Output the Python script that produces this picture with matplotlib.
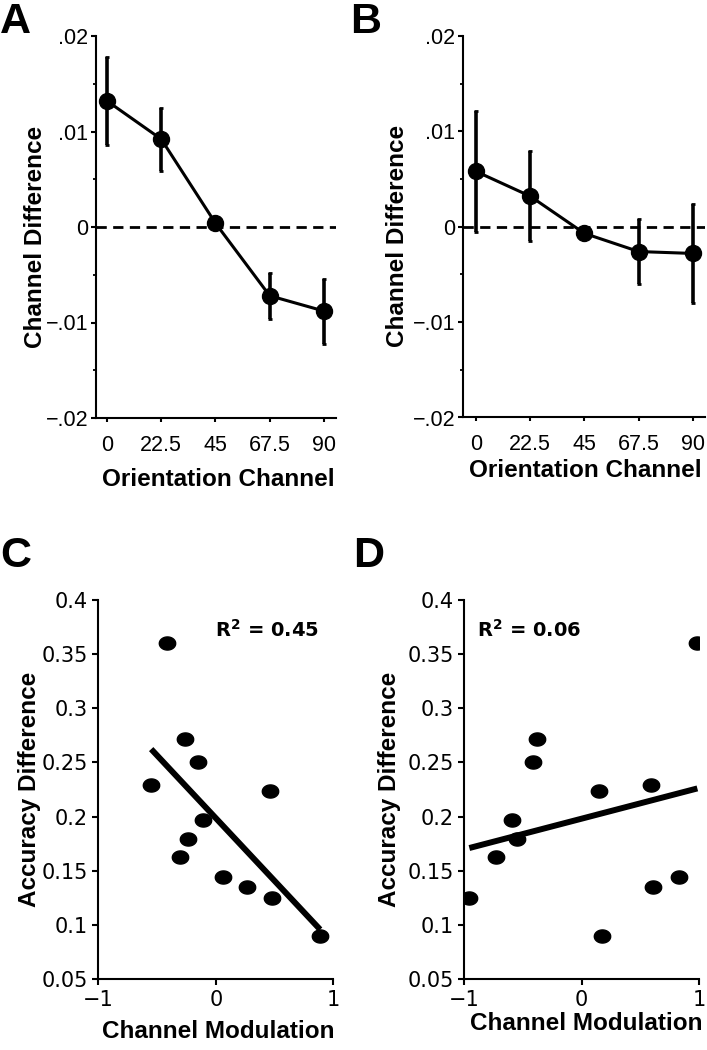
import numpy as np
import matplotlib
matplotlib.use("Agg")
import matplotlib.pyplot as plt
from matplotlib.path import Path
from matplotlib.ticker import FixedLocator

# ---------------- data ----------------
orient = [0, 22.5, 45, 67.5, 90]
orient_labels = ["0", "22.5", "45", "67.5", "90"]
diff_A = [0.0132, 0.0092, 0.0004, -0.0072, -0.0088]
err_A = [0.0046, 0.0033, 0.0005, 0.0024, 0.0034]
diff_B = [0.0058, 0.0032, -0.0007, -0.0026, -0.0028]
err_B = [0.0063, 0.0047, 0.0004, 0.0034, 0.0052]
cd_ticks = [-0.02, -0.01, 0, 0.01, 0.02]
cd_labels = ["\u2212.02", "\u2212.01", "0", ".01", ".02"]

acc_diff = [0.36, 0.272, 0.25, 0.229, 0.224, 0.197, 0.179, 0.163, 0.144, 0.135, 0.125, 0.09]
mod_C = [-0.417, -0.264, -0.148, -0.55, 0.46, -0.105, -0.238, -0.304, 0.06, 0.264, 0.482, 0.888]
mod_D = [0.986, -0.384, -0.415, 0.588, 0.145, -0.591, -0.554, -0.73, 0.827, 0.605, -0.957, 0.17]
r2_C = "0.45"
r2_D = "0.06"
acc_ticks = [0.05, 0.1, 0.15, 0.2, 0.25, 0.3, 0.35, 0.4]
acc_labels = ["0.05", "0.1", "0.15", "0.2", "0.25", "0.3", "0.35", "0.4"]
mod_ticks = [-1, 0, 1]
mod_labels = ["\u22121", "0", "1"]

# ---------------- style ----------------
plt.rcParams['font.family'] = ['Liberation Sans', 'DejaVu Sans']
plt.rcParams['mathtext.fontset'] = 'custom'
plt.rcParams['mathtext.bf'] = 'DejaVu Sans:bold'
plt.rcParams['mathtext.rm'] = 'DejaVu Sans:bold'

W, H = 707, 1050
fig = plt.figure(figsize=(W / 100, H / 100), dpi=100)

def px_axes(l, t, r, b):
    return fig.add_axes([l / W, 1 - b / H, (r - l) / W, (b - t) / H])

axA = px_axes(96, 36, 336, 418)
axB = px_axes(463, 36, 705, 417.5)
axC = px_axes(98.3, 600, 333.3, 979)
axD = px_axes(464.3, 600, 699, 979)

def base_style(ax):
    for s in ['top', 'right']:
        ax.spines[s].set_visible(False)
    for s in ['left', 'bottom']:
        ax.spines[s].set_linewidth(1.5)
        ax.spines[s].set_color('black')

# ---------- top panels ----------
for ax, d, e, xl in [(axA, diff_A, err_A, (-4.56, 95)), (axB, diff_B, err_B, (-5.4, 95))]:
    base_style(ax)
    ax.axhline(0, color='black', lw=2.0, linestyle=(0, (3.7, 2.3)), zorder=1)
    ax.errorbar(orient, d, yerr=e, fmt='-o', color='black', lw=2.2, ms=11.5,
                elinewidth=2.6, capsize=1.6, capthick=2.0, zorder=3)
    ax.set_xlim(*xl)
    ax.set_ylim(-0.02, 0.02)
    ax.set_xticks(orient)
    ax.set_xticklabels(orient_labels)
    ax.set_yticks(cd_ticks)
    ax.set_yticklabels(cd_labels)
    ax.yaxis.set_minor_locator(FixedLocator([-0.015, -0.005, 0.005, 0.015]))
    ax.tick_params(axis='y', which='major', length=3.5, width=1.5, pad=2.2, labelsize=15.5)
    ax.tick_params(axis='y', which='minor', length=2.5, width=1.3)
    ax.tick_params(axis='x', which='major', length=3, width=1.5, pad=9, labelsize=15.5)
    ax.set_xlabel('Orientation Channel', fontsize=17.5, fontweight='bold')
    ax.set_ylabel('Channel Difference', fontsize=17.5, fontweight='bold')

axA.xaxis.set_label_coords(0.51, -0.13)
axA.yaxis.set_label_coords(-0.205, 0.475)
axB.xaxis.set_label_coords(0.507, -0.11)
axB.yaxis.set_label_coords(-0.222, 0.476)

# ---------- bottom panels ----------
t = np.linspace(0, 2 * np.pi, 60)
ellipse = Path(np.column_stack([np.cos(t), 0.8 * np.sin(t)]))

for ax, xs, r2 in [(axC, mod_C, r2_C), (axD, mod_D, r2_D)]:
    base_style(ax)
    ax.plot(xs, acc_diff, linestyle='none', marker=ellipse, ms=11.8,
            color='black', zorder=3)
    k, b0 = np.polyfit(xs, acc_diff, 1)
    xf = np.array([min(xs), max(xs)])
    ax.plot(xf, k * xf + b0, color='black', lw=4.3, solid_capstyle='butt', zorder=2)
    ax.set_xlim(-1, 1)
    ax.set_ylim(0.05, 0.4)
    ax.set_xticks(mod_ticks)
    ax.set_xticklabels(mod_labels)
    ax.set_yticks(acc_ticks)
    ax.set_yticklabels(acc_labels)
    ax.tick_params(axis='both', which='major', length=4, width=1.5, labelsize=15)
    ax.tick_params(axis='y', pad=3.5)
    ax.tick_params(axis='x', pad=4)
    for lab in ax.get_xticklabels() + ax.get_yticklabels():
        lab.set_family('DejaVu Sans')
    ax.set_xlabel('Channel Modulation', fontsize=17.5, fontweight='bold')
    ax.set_ylabel('Accuracy Difference', fontsize=17.5, fontweight='bold')

axC.text(0.437, 0.366, r'R$^{\mathbf{2}}$ = ' + r2_C, fontsize=14, fontweight='bold',
         family='DejaVu Sans', ha='center', va='baseline')
axD.text(-0.451, 0.366, r'R$^{\mathbf{2}}$ = ' + r2_D, fontsize=14, fontweight='bold',
         family='DejaVu Sans', ha='center', va='baseline')

axC.xaxis.set_label_coords(0.51, -0.108)
axC.yaxis.set_label_coords(-0.245, 0.50)
axD.xaxis.set_label_coords(0.518, -0.088)
axD.yaxis.set_label_coords(-0.27, 0.50)

# ---------- panel letters ----------
for letter, x, y in [('A', 0, 33), ('B', 350, 33), ('C', 0, 567), ('D', 353, 567)]:
    fig.text(x / W, 1 - y / H, letter, fontsize=31, fontweight='bold',
             ha='left', va='baseline')

fig.savefig('out.png', dpi=100, facecolor='white')
